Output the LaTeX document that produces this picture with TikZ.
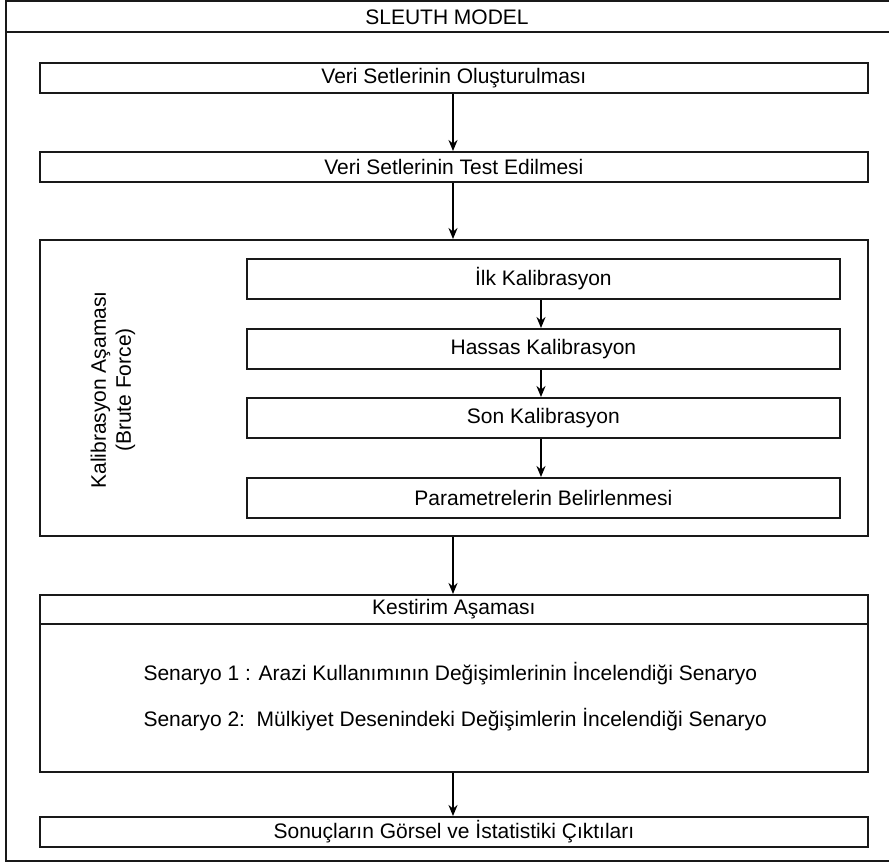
\documentclass[tikz,border=0pt]{standalone}
\usepackage{fontspec}
\setmainfont{Liberation Sans}
\usetikzlibrary{arrows.meta}
\begin{document}
\begin{tikzpicture}[x=1pt,y=-1pt,
  font=\fontsize{21}{25}\selectfont,
  frame/.style={draw=black!90,line width=1.8pt},
  wbox/.style={frame,rectangle,inner sep=0pt,minimum width=828pt,minimum height=30pt,anchor=north west},
  ibox/.style={frame,rectangle,inner sep=0pt,minimum width=593pt,minimum height=40pt,anchor=north west},
  arr/.style={line width=2.2pt,-{Stealth[length=11pt,width=9pt]}}]
\useasboundingbox (0,0) rectangle (889,865);
% outer frame
\draw[frame] (895,1) -- (6,1) -- (6,861) -- (895,861);
\draw[frame] (6,32) -- (895,32);
\node (title) at (447,17) {SLEUTH MODEL};
% main boxes
\node[wbox] (b1) at (39,62) {Veri Setlerinin Oluşturulması};
\node[wbox] (b2) at (39,151) {Veri Setlerinin Test Edilmesi};
\node[wbox,minimum height=296pt] (cal) at (39,239) {};
\node[wbox,minimum height=29pt] (kh) at (39,594) {Kestirim Aşaması};
\node[wbox,minimum height=148pt] (kb) at (39,623) {};
\node[wbox] (b5) at (39,816) {Sonuçların Görsel ve İstatistiki Çıktıları};
% calibration inner
\node[ibox] (c1) at (246,258) {İlk Kalibrasyon};
\node[ibox] (c2) at (246,328) {Hassas Kalibrasyon};
\node[ibox] (c3) at (246,397) {Son Kalibrasyon};
\node[ibox] (c4) at (246,477) {Parametrelerin Belirlenmesi};
\node[rotate=90,align=center] (clab) at (113,390) {Kalibrasyon Aşaması\\(Brute Force)};
% scenario text
\node[anchor=west] (s1) at (140,674) {Senaryo 1 : Arazi Kullanımının Değişimlerinin İncelendiği Senaryo};
\node[anchor=west] (s2) at (140,720) {Senaryo 2:\ \ Mülkiyet Desenindeki Değişimlerin İncelendiği Senaryo};
% arrows
\draw[arr] (b1.south -| 453,0) -- (b2.north -| 453,0);
\draw[arr] (b2.south -| 453,0) -- (cal.north -| 453,0);
\draw[arr] (cal.south -| 453,0) -- (kh.north -| 453,0);
\draw[arr] (kb.south -| 453,0) -- (b5.north -| 453,0);
\draw[arr] (c1.south -| 541,0) -- (c2.north -| 541,0);
\draw[arr] (c2.south -| 541,0) -- (c3.north -| 541,0);
\draw[arr] (c3.south -| 541,0) -- (c4.north -| 541,0);
\end{tikzpicture}
\end{document}
